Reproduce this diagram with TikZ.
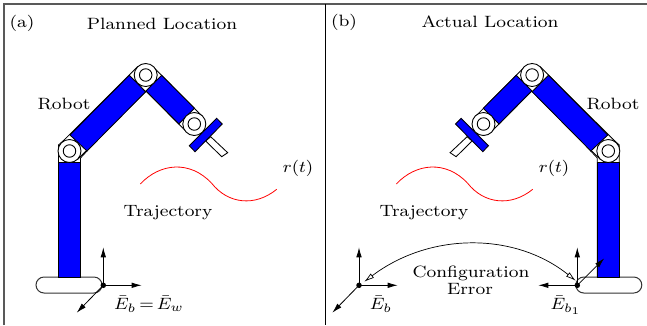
\documentclass[tikz,border=0pt]{standalone}
\usetikzlibrary{arrows.meta}
\tikzset{
  frameline/.style={line width=1.3pt,black!65},
  linkwhite/.style={draw=black,fill=white,line width=0.85pt,line join=miter},
  linkblue/.style={draw=black,fill=blue,line width=0.85pt},
  jointo/.style={circle,draw=black,fill=white,line width=0.9pt,minimum size=23pt,inner sep=0pt},
  jointi/.style={circle,draw=black,fill=white,line width=0.9pt,minimum size=12.5pt,inner sep=0pt},
  baseplate/.style={draw=black!80,fill=white,line width=1pt,rounded corners=8pt},
  traj/.style={red,line width=0.8pt},
  axis/.style={black,line width=0.8pt,-{Latex[length=10pt,width=5.5pt]}},
  dotn/.style={circle,fill=black,minimum size=5.5pt,inner sep=0pt},
  txt/.style={font=\fontsize{8}{9}\selectfont,inner sep=0pt,text=black,xscale=2.29,yscale=2.05,align=center},
  mtxt/.style={font=\fontsize{8}{9}\selectfont,inner sep=0pt,text=black,xscale=2.2,yscale=2.05},
  err/.style={black,line width=0.7pt,{Latex[open,fill=white,length=10pt,width=5.5pt]}-{Latex[open,fill=white,length=10pt,width=5.5pt]}}
}
\newcommand{\robotdraw}{%
  \draw[baseplate] (36,277) rectangle (102,293);
  \draw[linkwhite] (58.5,277) -- (58.5,145) -- (70,135) -- (87,151) -- (80.5,158) -- (80.5,277) -- cycle;
  \draw[linkblue] (58.5,162) rectangle (80.5,277);
  \draw[linkwhite] (61.3,142.8) -- (137.5,66.8) -- (153.9,83.2) -- (77.7,159.2) -- cycle;
  \draw[linkblue] (70,135) -- (129.3,75.3) -- (145.7,91.7) -- (87,151) -- cycle;
  \draw[linkwhite] (153.5,67.2) -- (202.1,116.2) -- (186.5,131.8) -- (137.9,82.8) -- cycle;
  \draw[linkwhite] (145.7,91.7) -- (137.5,83.2) -- (145.7,75) -- (153.9,83.2) -- cycle;
  \draw[linkblue] (161.6,75.3) -- (194.5,108.3) -- (178.8,123.9) -- (146,90.9) -- cycle;
  \draw[linkwhite] (210.7,136.7) -- (227.7,152.7) -- (221.7,156.7) -- (205.7,141) -- cycle;
  \draw[linkblue] (216.7,118.3) -- (222.3,124) -- (195,151.7) -- (189.3,145.7) -- cycle;
  \foreach \j in {(69.5,151),(145.7,75),(194.3,124)} {
    \node[jointo] at \j {};
    \node[jointi] at \j {};
  }
}
\begin{document}
\begin{tikzpicture}[x=1pt,y=-1pt]
\useasboundingbox (0,0) rectangle (647,325);
\draw[frameline] (4,325) -- (4,4) -- (647,4);
\draw[line width=1pt,black] (325,4) -- (325,325);
\begin{scope}\robotdraw\end{scope}
\begin{scope}[xshift=677.8pt,xscale=-1]\robotdraw\end{scope}
\draw[traj] (140.3,184) .. controls (160,163) and (190,160) .. (211.7,183.3) .. controls (228,204) and (255,207) .. (276.7,189.3);
\draw[traj] (396.3,184) .. controls (416,163) and (446,160) .. (467.7,183.3) .. controls (484,204) and (511,207) .. (532.7,189.3);
\node[dotn] (oa) at (103.3,285.3) {};
\coordinate (oau) at (103.3,247.3);
\coordinate (oar) at (141.7,285.3);
\coordinate (oad) at (76.7,312.7);
\draw[axis] (oa.center) -- (oau);
\draw[axis] (oa.center) -- (oar);
\draw[axis] (oa.center) -- (oad);
\node[dotn] (ob) at (359,285.3) {};
\coordinate (obu) at (359,247.3);
\coordinate (obr) at (397.7,285.3);
\coordinate (obd) at (332.3,312.7);
\draw[axis] (ob.center) -- (obu);
\draw[axis] (ob.center) -- (obr);
\draw[axis] (ob.center) -- (obd);
\node[dotn] (oc) at (577.3,285.3) {};
\coordinate (ocu) at (577.3,247.3);
\coordinate (ocl) at (538.3,285.3);
\coordinate (ocd) at (604.3,258.3);
\draw[axis] (oc.center) -- (ocu);
\draw[axis] (oc.center) -- (ocl);
\draw[axis] (oc.center) -- (ocd);
\coordinate (ea) at (364.3,281.7);
\coordinate (eb) at (575.7,280.7);
\draw[err] (ea) .. controls (430,232) and (515,232) .. (eb);
\node[txt] (la) at (22,23) {(a)};
\node[txt] (ta) at (162,24) {Planned Location};
\node[txt] (ra) at (64,104) {Robot};
\node[mtxt] (rta) at (298,168) {$r(t)$};
\node[txt] (tra) at (168,213) {Trajectory};
\node[mtxt] (ea1) at (149,304) {$\bar{E}_b\,{=}\,\bar{E}_w$};
\node[txt] (lb) at (344,22) {(b)};
\node[txt] (tb) at (490,22) {Actual Location};
\node[txt] (rb) at (613,104) {Robot};
\node[mtxt] (rtb) at (554,168) {$r(t)$};
\node[txt] (trb) at (424,213) {Trajectory};
\node[txt] (ce) at (471,273) {Configuration};
\node[txt] (er) at (470,289) {Error};
\node[mtxt] (eb2) at (381,304) {$\bar{E}_b$};
\node[mtxt] (eb3) at (566,305) {$\bar{E}_{b_1}$};
\end{tikzpicture}
\end{document}
